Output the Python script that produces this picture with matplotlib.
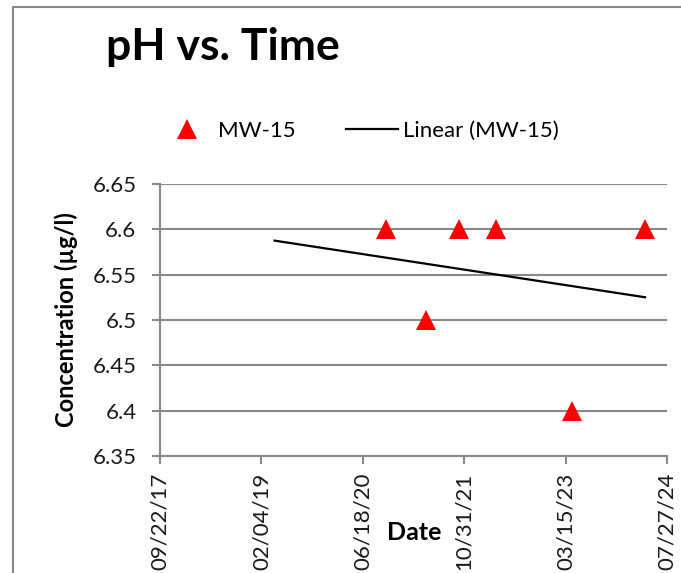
import numpy as np
import pandas as pd
import matplotlib
matplotlib.use('Agg')
import matplotlib.pyplot as plt
import matplotlib.dates as mdates
from matplotlib.lines import Line2D

plt.rcParams['font.family'] = ['Lato', 'DejaVu Sans']

# data
sample_dates = ['2020-10-09', '2021-04-24', '2021-10-07', '2022-04-04', '2023-04-17', '2024-04-10']
ph_values = [6.6, 6.5, 6.6, 6.6, 6.4, 6.6]
trend_start = '2019-04-10'
series_name = 'MW-15'
tick_start = '2017-09-22'
tick_step_days = 500
n_ticks = 6
y_ticks = [6.35, 6.4, 6.45, 6.5, 6.55, 6.6, 6.65]
y_tick_labels = ['6.35', '6.4', '6.45', '6.5', '6.55', '6.6', '6.65']

W, H = 681, 573
fig = plt.figure(figsize=(W / 100, H / 100), dpi=100)
ax = fig.add_axes([160 / W, 1 - 456 / H, (667 - 160) / W, (456 - 184) / H])

x = pd.to_datetime(sample_dates)
xn = mdates.date2num(x)

# linear trendline
slope, icpt = np.polyfit(xn, ph_values, 1)
tx = np.array([mdates.date2num(pd.Timestamp(trend_start)), xn.max()])
ty = slope * tx + icpt

grid_c = '#898989'
ax.plot(x, ph_values, linestyle='none', marker='^', ms=15, color='#ff0000',
        markeredgewidth=0, label=series_name, zorder=4)
ax.plot(mdates.num2date(tx), ty, color='black', lw=1.6, label='Linear (%s)' % series_name, zorder=3)

ticks = pd.date_range(tick_start, periods=n_ticks, freq='%dD' % tick_step_days)
ax.set_xlim(ticks[0], ticks[-1])
ax.set_xticks(ticks)
ax.xaxis.set_major_formatter(mdates.DateFormatter('%m/%d/%y'))
ax.set_ylim(y_ticks[0], y_ticks[-1])
ax.set_yticks(y_ticks)
ax.set_yticklabels(y_tick_labels)

ax.grid(axis='y', color=grid_c, lw=1.5)
ax.set_axisbelow(True)
for s in ['top', 'right']:
    ax.spines[s].set_visible(False)
for s in ['left', 'bottom']:
    ax.spines[s].set_color(grid_c)
    ax.spines[s].set_linewidth(1.5)
ax.tick_params(axis='both', color=grid_c, width=1.5, length=6, labelsize=16, labelcolor='#1a1a1a')
ax.tick_params(axis='y', pad=11)
ax.tick_params(axis='x', pad=6, labelrotation=90)

ax.set_ylabel('Concentration (µg/l)', fontsize=17, fontweight='bold', labelpad=10)
fig.text(414 / W, 1 - 532 / H, 'Date', fontsize=18, fontweight='bold', ha='center', va='center')
fig.text(106 / W, 1 - 60 / H, 'pH vs. Time', fontsize=32, fontweight='bold', ha='left', va='baseline')

fig.legend(loc='center', bbox_to_anchor=(360 / W, 1 - 131 / H), ncol=2, frameon=False,
           fontsize=16, numpoints=1, handlelength=2.3, handletextpad=0.25, columnspacing=2.3)

# outer chart border (cropped on right and bottom)
fig.add_artist(Line2D([13 / W, 13 / W], [0, 1 - 7 / H], transform=fig.transFigure, color=grid_c, lw=1.5))
fig.add_artist(Line2D([13 / W, 1], [1 - 7 / H, 1 - 7 / H], transform=fig.transFigure, color=grid_c, lw=1.5))

fig.savefig('out.png', dpi=100)
